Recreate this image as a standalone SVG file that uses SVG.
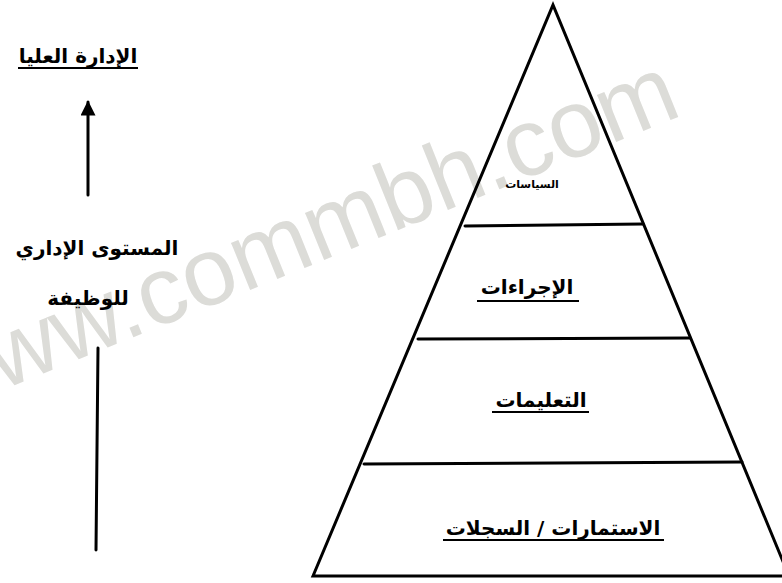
<svg xmlns="http://www.w3.org/2000/svg" width="782" height="583" viewBox="0 0 782 583">
<defs>
<style>
.t{font-family:"DejaVu Sans",sans-serif;font-weight:bold;fill:#000;text-anchor:middle}
.ln{stroke:#000;stroke-width:3;fill:none;stroke-linecap:round}
.ul{stroke:#000;stroke-width:2}
.wm{font-family:"Liberation Sans",Arial,sans-serif;font-size:96px;fill:#dcdcd8;text-anchor:middle}
</style>
<marker id="ah" viewBox="0 0 10 10" refX="9" refY="5" markerWidth="5" markerHeight="5" orient="auto" markerUnits="strokeWidth">
<path d="M0,0 L10,5 L0,10 z" fill="#000"/>
</marker>
</defs>
<rect width="782" height="583" fill="#fff"/>
<text class="wm" transform="translate(510,185) rotate(-22)" x="-215" y="0">www.commbh.com</text>
<g id="pyramid">
<path class="ln" d="M313,576 L553,5 L789,576 Z"/>
</g>
<g id="level-policies">
<line class="ln" x1="465" y1="226" x2="643" y2="224"/>
<text class="t" x="532" y="188" font-size="11">السياسات</text>
</g>
<g id="level-procedures">
<line class="ln" x1="418" y1="339" x2="690" y2="338"/>
<text class="t" x="527" y="294" font-size="20">الإجراءات</text>
<line class="ul" x1="477" y1="301" x2="579" y2="301"/>
</g>
<g id="level-instructions">
<line class="ln" x1="364" y1="464" x2="742" y2="462"/>
<text class="t" x="541" y="407" font-size="20">التعليمات</text>
<line class="ul" x1="492" y1="412" x2="589" y2="412"/>
</g>
<g id="level-forms">
<text class="t" x="553" y="535" font-size="20">الاستمارات / السجلات</text>
<line class="ul" x1="443" y1="540" x2="664" y2="540"/>
</g>
<g id="top-management">
<text class="t" x="78" y="63" font-size="20">الإدارة العليا</text>
<line class="ul" x1="18" y1="68" x2="138" y2="68"/>
</g>
<g id="admin-level">
<text class="t" x="97" y="255" font-size="20">المستوى الإداري</text>
<text class="t" x="88" y="305" font-size="20">للوظيفة</text>
</g>
<g id="connectors">
<line class="ln" x1="88" y1="195" x2="88" y2="102" marker-end="url(#ah)"/>
<line class="ln" x1="98" y1="348" x2="96" y2="550"/>
</g>
</svg>
